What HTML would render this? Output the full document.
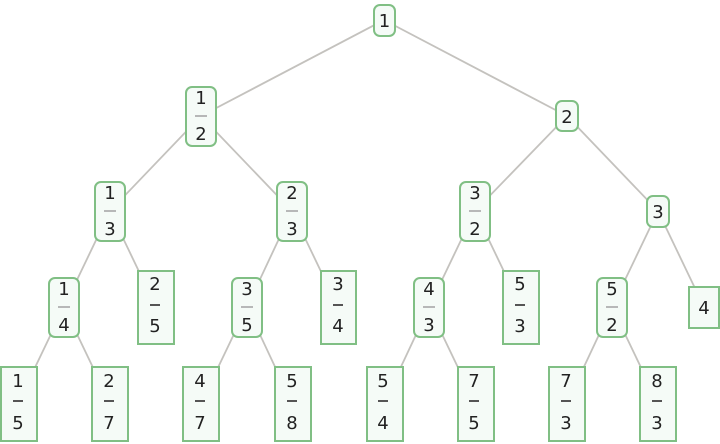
<!DOCTYPE html>
<html><head><meta charset="utf-8"><style>
html,body{margin:0;padding:0;background:#fff;width:720px;height:444px;overflow:hidden;position:relative}
svg{display:block;position:absolute;left:0;top:0}
.t{position:absolute;width:40px;margin-left:-20px;text-align:center;font-family:"DejaVu Sans","Liberation Sans",sans-serif;font-size:18px;line-height:20px;height:20px;color:#222}
.e{stroke:#c4c2be;stroke-width:1.8}
.n{fill:#f5fbf7;stroke:#80bf84;stroke-width:2}
.bi{stroke:#b0b0b0;stroke-width:1.8}
.bl{stroke:#555;stroke-width:2}
</style></head><body>
<svg width="720" height="444" viewBox="0 0 720 444">
<g>
<line class="e" x1="384" y1="20" x2="201" y2="116"/>
<line class="e" x1="384" y1="20" x2="567" y2="116"/>
<line class="e" x1="201" y1="116" x2="110" y2="211"/>
<line class="e" x1="201" y1="116" x2="292" y2="211"/>
<line class="e" x1="567" y1="116" x2="475" y2="211"/>
<line class="e" x1="567" y1="116" x2="658" y2="211"/>
<line class="e" x1="110" y1="211" x2="64" y2="307"/>
<line class="e" x1="110" y1="211" x2="156" y2="307"/>
<line class="e" x1="292" y1="211" x2="247" y2="307"/>
<line class="e" x1="292" y1="211" x2="338" y2="307"/>
<line class="e" x1="475" y1="211" x2="429" y2="307"/>
<line class="e" x1="475" y1="211" x2="521" y2="307"/>
<line class="e" x1="658" y1="211" x2="612" y2="307"/>
<line class="e" x1="658" y1="211" x2="704" y2="307"/>
<line class="e" x1="64" y1="307" x2="18" y2="403"/>
<line class="e" x1="64" y1="307" x2="110" y2="403"/>
<line class="e" x1="247" y1="307" x2="201" y2="403"/>
<line class="e" x1="247" y1="307" x2="292" y2="403"/>
<line class="e" x1="429" y1="307" x2="384" y2="403"/>
<line class="e" x1="429" y1="307" x2="475" y2="403"/>
<line class="e" x1="612" y1="307" x2="567" y2="403"/>
<line class="e" x1="612" y1="307" x2="658" y2="403"/>
</g>
<rect class="n" x="374" y="5" width="21" height="31" rx="6"/>
<rect class="n" x="556" y="101" width="22" height="30" rx="6"/>
<rect class="n" x="647" y="196" width="22" height="31" rx="6"/>
<rect class="n" x="186" y="87" width="30" height="59" rx="6"/><line class="bi" x1="195" y1="116" x2="207" y2="116"/>
<rect class="n" x="95" y="182" width="30" height="59" rx="6"/><line class="bi" x1="104" y1="211" x2="116" y2="211"/>
<rect class="n" x="277" y="182" width="30" height="59" rx="6"/><line class="bi" x1="286" y1="211" x2="298" y2="211"/>
<rect class="n" x="460" y="182" width="30" height="59" rx="6"/><line class="bi" x1="469" y1="211" x2="481" y2="211"/>
<rect class="n" x="49" y="278" width="30" height="59" rx="6"/><line class="bi" x1="58" y1="307" x2="70" y2="307"/>
<rect class="n" x="232" y="278" width="30" height="59" rx="6"/><line class="bi" x1="241" y1="307" x2="253" y2="307"/>
<rect class="n" x="414" y="278" width="30" height="59" rx="6"/><line class="bi" x1="423" y1="307" x2="435" y2="307"/>
<rect class="n" x="597" y="278" width="30" height="59" rx="6"/><line class="bi" x1="606" y1="307" x2="618" y2="307"/>
<rect class="n" x="138" y="271" width="36" height="73"/><line class="bl" x1="150" y1="305" x2="160" y2="305"/>
<rect class="n" x="321" y="271" width="35" height="73"/><line class="bl" x1="333" y1="305" x2="343" y2="305"/>
<rect class="n" x="503" y="271" width="36" height="73"/><line class="bl" x1="515" y1="305" x2="525" y2="305"/>
<rect class="n" x="689" y="287" width="30" height="41"/>
<rect class="n" x="1" y="367" width="36" height="74"/><line class="bl" x1="13" y1="401" x2="23" y2="401"/>
<rect class="n" x="92" y="367" width="36" height="74"/><line class="bl" x1="104" y1="401" x2="114" y2="401"/>
<rect class="n" x="183" y="367" width="36" height="74"/><line class="bl" x1="195" y1="401" x2="205" y2="401"/>
<rect class="n" x="275" y="367" width="36" height="74"/><line class="bl" x1="287" y1="401" x2="297" y2="401"/>
<rect class="n" x="367" y="367" width="36" height="74"/><line class="bl" x1="378" y1="401" x2="388" y2="401"/>
<rect class="n" x="458" y="367" width="36" height="74"/><line class="bl" x1="469" y1="401" x2="479" y2="401"/>
<rect class="n" x="549" y="367" width="36" height="74"/><line class="bl" x1="561" y1="401" x2="571" y2="401"/>
<rect class="n" x="640" y="367" width="36" height="74"/><line class="bl" x1="652" y1="401" x2="662" y2="401"/>
</svg>
<div class="t" style="left:384.5px;top:12px">1</div>
<div class="t" style="left:567px;top:108px">2</div>
<div class="t" style="left:658px;top:203px">3</div>
<div class="t" style="left:201px;top:89px">1</div><div class="t" style="left:201px;top:125px">2</div>
<div class="t" style="left:110px;top:184px">1</div><div class="t" style="left:110px;top:220px">3</div>
<div class="t" style="left:292px;top:184px">2</div><div class="t" style="left:292px;top:220px">3</div>
<div class="t" style="left:475px;top:184px">3</div><div class="t" style="left:475px;top:220px">2</div>
<div class="t" style="left:64px;top:280px">1</div><div class="t" style="left:64px;top:316px">4</div>
<div class="t" style="left:247px;top:280px">3</div><div class="t" style="left:247px;top:316px">5</div>
<div class="t" style="left:429px;top:280px">4</div><div class="t" style="left:429px;top:316px">3</div>
<div class="t" style="left:612px;top:280px">5</div><div class="t" style="left:612px;top:316px">2</div>
<div class="t" style="left:155px;top:275px">2</div><div class="t" style="left:155px;top:317px">5</div>
<div class="t" style="left:338px;top:275px">3</div><div class="t" style="left:338px;top:317px">4</div>
<div class="t" style="left:520px;top:275px">5</div><div class="t" style="left:520px;top:317px">3</div>
<div class="t" style="left:704px;top:299px">4</div>
<div class="t" style="left:18px;top:372px">1</div><div class="t" style="left:18px;top:414px">5</div>
<div class="t" style="left:109px;top:372px">2</div><div class="t" style="left:109px;top:414px">7</div>
<div class="t" style="left:200px;top:372px">4</div><div class="t" style="left:200px;top:414px">7</div>
<div class="t" style="left:292px;top:372px">5</div><div class="t" style="left:292px;top:414px">8</div>
<div class="t" style="left:383px;top:372px">5</div><div class="t" style="left:383px;top:414px">4</div>
<div class="t" style="left:474px;top:372px">7</div><div class="t" style="left:474px;top:414px">5</div>
<div class="t" style="left:566px;top:372px">7</div><div class="t" style="left:566px;top:414px">3</div>
<div class="t" style="left:657px;top:372px">8</div><div class="t" style="left:657px;top:414px">3</div>
</body></html>
